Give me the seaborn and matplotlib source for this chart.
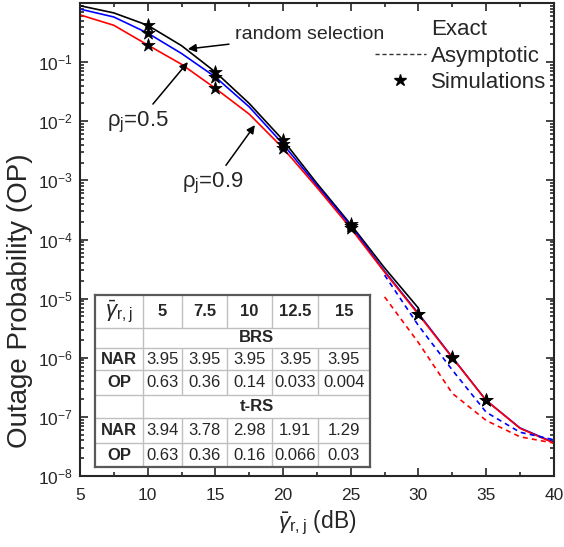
import numpy as np
import pandas as pd
import seaborn as sns
import matplotlib.pyplot as plt
from matplotlib.lines import Line2D

# exact curves
snr = [5, 7.5, 10, 12.5, 15, 17.5, 20, 22.5, 25, 27.5, 30, 32.5, 35, 37.5, 40]
snr_random = [5, 7.5, 10, 12.5, 15, 17.5, 20, 22.5, 25, 27.5, 30]
op_random = [0.9, 0.68, 0.42, 0.19, 0.068, 0.02, 0.0048, 8.9e-4, 1.8e-4, 3.3e-5, 6.9e-6]
op_rho05 = [0.79, 0.58, 0.31, 0.14, 0.056, 0.0175, 0.0041, 8.2e-4, 1.7e-4, 2.9e-5,
            5.6e-6, 1.02e-6, 1.9e-7, 6.5e-8, 3.7e-8]
op_rho09 = [0.63, 0.42, 0.195, 0.092, 0.036, 0.0132, 0.0035, 7.6e-4, 1.55e-4, 2.8e-5,
            5.4e-6, 1.0e-6, 1.9e-7, 6.4e-8, 3.6e-8]

# asymptotic curves
snr_asym = [27.5, 30, 32.5, 35, 37.5, 40]
asym_rho05 = [2.5e-5, 3.5e-6, 6.2e-7, 1.2e-7, 5.5e-8, 4.1e-8]
asym_rho09 = [1.07e-5, 1.8e-6, 2.5e-7, 8.7e-8, 4.6e-8, 3.6e-8]

# simulation points
sim_snr_random = [10, 15, 20, 25]
sim_random = [0.42, 0.068, 0.0048, 1.8e-4]
sim_snr = [10, 15, 20, 25, 30, 32.5, 35]
sim_rho05 = [0.31, 0.056, 0.0041, 1.7e-4, 5.6e-6, 1.02e-6, 1.9e-7]
sim_rho09 = [0.195, 0.036, 0.0035, 1.55e-4, 5.4e-6, 1.0e-6, 1.9e-7]

# inset table
tab_cols = ['5', '7.5', '10', '12.5', '15']
brs_nar = ['3.95', '3.95', '3.95', '3.95', '3.95']
brs_op = ['0.63', '0.36', '0.14', '0.033', '0.004']
trs_nar = ['3.94', '3.78', '2.98', '1.91', '1.29']
trs_op = ['0.63', '0.36', '0.16', '0.066', '0.03']

sns.set_style('ticks')
plt.rcParams['font.family'] = ['Liberation Sans', 'DejaVu Sans']
plt.rcParams['mathtext.fontset'] = 'custom'
plt.rcParams['mathtext.rm'] = 'Liberation Sans'
plt.rcParams['mathtext.it'] = 'Liberation Sans:italic'
plt.rcParams['mathtext.bf'] = 'Liberation Sans:bold'

fig = plt.figure(figsize=(5.64, 5.47), dpi=100)
ax = fig.add_axes([0.1418, 0.1298, 0.8402, 0.8647])
ax.set_yscale('log')

sns.lineplot(x=snr_random, y=op_random, color='black', lw=1.2, ax=ax)
sns.lineplot(x=snr, y=op_rho05, color='blue', lw=1.2, ax=ax)
sns.lineplot(x=snr, y=op_rho09, color='red', lw=1.2, ax=ax)
sns.lineplot(x=snr_asym, y=asym_rho05, color='blue', lw=1.2, ls=(0, (3, 2.5)), ax=ax)
sns.lineplot(x=snr_asym, y=asym_rho09, color='red', lw=1.2, ls=(0, (3, 2.5)), ax=ax)

for xs, ys in [(sim_snr_random, sim_random), (sim_snr, sim_rho05), (sim_snr, sim_rho09)]:
    sns.scatterplot(x=xs, y=ys, marker='*', s=100, color='black', edgecolor='black',
                    linewidth=0.5, ax=ax, zorder=5)

ax.set_xlim(5, 40)
ax.set_ylim(1e-8, 1)
ax.set_xticks([5, 10, 15, 20, 25, 30, 35, 40])
ax.set_xticks(np.arange(7.5, 40, 5), minor=True)
ax.set_yticks([10.0 ** -k for k in range(8, 0, -1)])
ax.tick_params(which='both', direction='in', top=True, right=True, width=1.2)
ax.tick_params(which='major', length=6, labelsize=12.5)
ax.tick_params(which='minor', length=3)
ax.tick_params(axis='x', which='major', pad=9)
ax.tick_params(axis='y', which='major', pad=5)
for s in ax.spines.values():
    s.set_linewidth(1.5)

ax.set_ylabel('Outage Probability (OP)', fontsize=20)
ax.yaxis.set_label_coords(-0.099, 0.37)
ax.set_xlabel(r'$\bar{\gamma}_{\mathrm{r,j}}$ (dB)', fontsize=16.5, labelpad=4)

arrow = dict(arrowstyle='-|>', color='black', lw=1.1, mutation_scale=12, shrinkA=2, shrinkB=0)
ax.annotate('random selection', xy=(12.97, 0.167), xytext=(16.45, 0.29),
            fontsize=14, ha='left', va='center', arrowprops=arrow)
ax.annotate(r'ρ$_{\mathrm{j}}$=0.5', xy=(12.97, 0.1), xytext=(9.28, 0.0097),
            fontsize=16, ha='center', va='center', arrowprops=arrow)
ax.annotate(r'ρ$_{\mathrm{j}}$=0.9', xy=(17.92, 0.0086), xytext=(14.82, 8.9e-4),
            fontsize=16, ha='center', va='center', arrowprops=arrow)

handles = [Line2D([], [], color='none'),
           Line2D([], [], color='0.2', lw=1, ls=(0, (3, 2))),
           Line2D([], [], color='none', marker='*', markersize=9,
                  markerfacecolor='black', markeredgecolor='black')]
ax.legend(handles, ['Exact', 'Asymptotic', 'Simulations'], loc='upper left',
          bbox_to_anchor=(0.603, 0.985), borderaxespad=0, frameon=False, fontsize=16,
          handlelength=2.3, handletextpad=0.25, labelspacing=0.25, numpoints=1)

# table drawn in an inset, pixel-like coordinates
col_edges = [95, 143, 182, 227, 272, 318, 370]
row_edges = [295, 328, 348, 370, 395, 418, 443, 467]
tab = fig.add_axes([95 / 564, 1 - 467 / 547, 275 / 564, 172 / 547])
tab.set_xlim(col_edges[0], col_edges[-1])
tab.set_ylim(row_edges[-1], row_edges[0])
tab.set_xticks([])
tab.set_yticks([])
tab.set_facecolor('white')
for s in tab.spines.values():
    s.set_color('0.35')
    s.set_linewidth(1.6)
grid_c = '0.75'
for r in row_edges[1:-1]:
    tab.plot([col_edges[0], col_edges[-1]], [r, r], color=grid_c, lw=1)
tab.plot([col_edges[1], col_edges[1]], [row_edges[0], row_edges[-1]], color=grid_c, lw=1)
merged = [1, 4]
for c in col_edges[2:-1]:
    for i in range(len(row_edges) - 1):
        if i in merged:
            continue
        tab.plot([c, c], [row_edges[i], row_edges[i + 1]], color=grid_c, lw=1)

def cx(i):
    return (col_edges[i] + col_edges[i + 1]) / 2

def cy(i):
    return (row_edges[i] + row_edges[i + 1]) / 2

tab.text(cx(0), cy(0), r'$\bar{\gamma}_{\mathrm{r,j}}$', fontsize=16, ha='center', va='center')
for j, c in enumerate(tab_cols):
    tab.text(cx(j + 1), cy(0), c, fontsize=12, weight='bold', ha='center', va='center')
mid = (col_edges[1] + col_edges[-1]) / 2
tab.text(mid, cy(1), 'BRS', fontsize=12, weight='bold', ha='center', va='center')
tab.text(mid, cy(4), 't-RS', fontsize=12, weight='bold', ha='center', va='center')
for ri, name, vals in [(2, 'NAR', brs_nar), (3, 'OP', brs_op), (5, 'NAR', trs_nar), (6, 'OP', trs_op)]:
    tab.text(cx(0), cy(ri), name, fontsize=12, weight='bold', ha='center', va='center')
    for j, v in enumerate(vals):
        tab.text(cx(j + 1), cy(ri), v, fontsize=12, ha='center', va='center')

fig.savefig('out.png', dpi=100)
